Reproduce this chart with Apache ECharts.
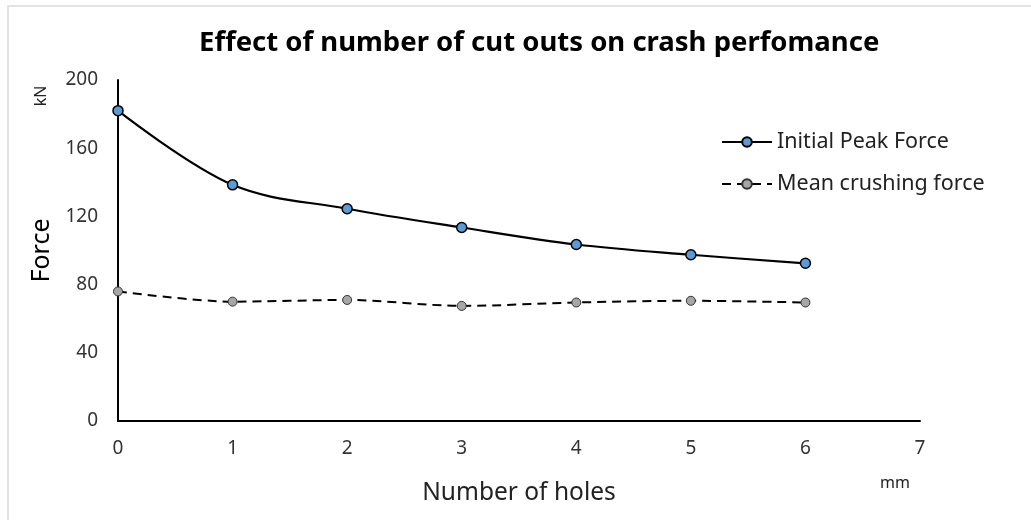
<!DOCTYPE html>
<html>
<head>
<meta charset="utf-8">
<script src="https://cdn.jsdelivr.net/npm/echarts@6/dist/echarts.min.js"></script>
<style>
  html, body { margin: 0; padding: 0; background: #fff; }
  #frame { position: absolute; left: 7px; top: 5px; width: 1030px; height: 520px;
    border-left: 2px solid #e3e3e3; border-top: 2px solid #e3e3e3; }
  #main { position: absolute; left: 0; top: 0; width: 1031px; height: 520px; }
</style>
</head>
<body>
<div id="frame"></div>
<div id="main"></div>
<script>
// number of holes
const holes = [0, 1, 2, 3, 4, 5, 6];
// kN
const peakForce = [182, 138.5, 124.5, 113.5, 103.5, 97.5, 92.5];
const meanForce = [76, 70, 71, 67.5, 69.5, 70.5, 69.5];
const yTicks = [0, 40, 80, 120, 160, 200];

const font = 'Noto Sans';
const chart = echarts.init(document.getElementById('main'));

const pair = (xs, ys) => xs.map((x, i) => [x, ys[i]]);

chart.setOption({
  animation: false,
  title: {
    text: 'Effect of number of cut outs on crash perfomance',
    left: 194,
    top: 24,
    textStyle: { fontFamily: font, fontSize: 27.5, fontWeight: 'bold', color: '#000' }
  },
  grid: { left: 118, right: 111, top: 80, bottom: 99 },
  legend: {
    orient: 'vertical',
    left: 716,
    top: 126,
    itemGap: 20,
    itemWidth: 50,
    itemHeight: 12,
    textStyle: { fontFamily: font, fontSize: 21.5, color: '#222' },
    data: ['Initial Peak Force', 'Mean crushing force']
  },
  xAxis: {
    type: 'value',
    min: 0,
    max: 7,
    interval: 1,
    name: 'Number of holes',
    nameLocation: 'middle',
    nameGap: 60,
    nameTextStyle: { fontFamily: font, fontSize: 24.5, color: '#222' },
    axisLine: { show: true, lineStyle: { color: '#000', width: 2 } },
    axisTick: { show: false },
    splitLine: { show: false },
    axisLabel: { fontFamily: font, fontSize: 19, color: '#333', margin: 18 }
  },
  yAxis: {
    type: 'value',
    min: 0,
    max: 200,
    interval: 40,
    name: 'Force',
    nameLocation: 'middle',
    nameRotate: 90,
    nameGap: 62,
    nameTextStyle: { fontFamily: font, fontSize: 25, color: '#000' },
    axisLine: { show: true, lineStyle: { color: '#000', width: 2 } },
    axisTick: { show: false },
    splitLine: { show: false },
    axisLabel: {
      fontFamily: font, fontSize: 19, color: '#333', margin: 20,
      formatter: v => yTicks.includes(v) ? String(v) : ''
    }
  },
  graphic: [
    {
      type: 'text', x: 41, y: 96, rotation: Math.PI / 2,
      style: { text: 'kN', font: '16px "Noto Sans"', fill: '#222', align: 'center', verticalAlign: 'middle' }
    },
    {
      type: 'text', x: 880, y: 475,
      style: { text: 'mm', font: '16px "Noto Sans"', fill: '#222' }
    }
  ],
  series: [
    {
      name: 'Initial Peak Force',
      type: 'line',
      smooth: 0.35,
      symbol: 'circle',
      symbolSize: 10,
      lineStyle: { color: '#000', width: 2.2 },
      itemStyle: { color: '#5b9bd5', borderColor: '#000', borderWidth: 1.5 },
      data: pair(holes, peakForce)
    },
    {
      name: 'Mean crushing force',
      type: 'line',
      smooth: 0.3,
      symbol: 'circle',
      symbolSize: 9,
      lineStyle: { color: '#000', width: 2, type: [9, 6] },
      itemStyle: { color: '#a6a6a6', borderColor: '#333', borderWidth: 1 },
      data: pair(holes, meanForce)
    }
  ]
});
</script>
</body>
</html>
